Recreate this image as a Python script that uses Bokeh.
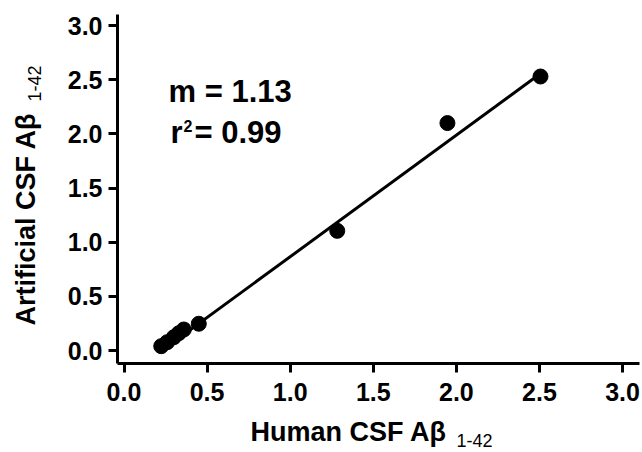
import math
from bokeh.plotting import figure
from bokeh.models import Label, FixedTicker, PrintfTickFormatter, ColumnDataSource
from bokeh.embed import file_html
from bokeh.resources import INLINE

# ---- data ----
human_csf = [0.224, 0.26, 0.30, 0.33, 0.36, 0.45, 1.283, 1.946, 2.506]
artificial_csf = [0.04, 0.077, 0.123, 0.16, 0.194, 0.247, 1.105, 2.10, 2.53]
fit_x = [0.22, 2.50]
fit_y = [-0.01, 2.55]
tick_values = [0.0, 0.5, 1.0, 1.5, 2.0, 2.5, 3.0]
slope_text = "m = 1.13"
r2_prefix = "r"
r2_sup = "2"
r2_rest = " = 0.99"
x_title = "Human CSF A\u03b2"
y_title = "Artificial CSF A\u03b2"
sub_text = "1-42"

FONT = "Liberation Sans"
W, H = 640, 450

# pixel layout of the picture (0.0 / 3.0 tick positions)
X0_PX, KX = 123.5, 166.2      # x=0 at px 123.5, 166.2 px per unit
Y0_PX, KY = 350.0, 108.3      # y=0 at px 350, 108.3 px per unit

def sx(px):
    return (px - X0_PX) / KX

def sy(py):
    return (Y0_PX - py) / KY

p = figure(width=W, height=H, output_backend="svg", toolbar_location=None,
           x_range=(sx(0), sx(W)), y_range=(sy(H), sy(0)),
           min_border_left=0, min_border_right=0, min_border_top=0, min_border_bottom=0)
p.outline_line_color = None
p.xgrid.visible = False
p.ygrid.visible = False
p.background_fill_color = "white"
p.border_fill_color = "white"

AX_LEFT_PX, AX_RIGHT_PX, AX_TOP_PX, AX_BOTTOM_PX = 117, 639, 14, 363

for ax in (p.xaxis[0], p.yaxis[0]):
    ax.ticker = FixedTicker(ticks=tick_values)
    ax.formatter = PrintfTickFormatter(format="%.1f")
    ax.axis_line_width = 3
    ax.axis_line_color = "black"
    ax.major_tick_line_width = 3
    ax.major_tick_line_color = "black"
    ax.major_tick_out = 9
    ax.major_tick_in = 0
    ax.minor_tick_out = 0
    ax.minor_tick_in = 0
    ax.major_label_text_font = FONT
    ax.major_label_text_font_style = "bold"
    ax.major_label_text_font_size = "25px"
    ax.major_label_text_color = "black"

p.xaxis[0].fixed_location = sy(AX_BOTTOM_PX)
p.xaxis[0].bounds = (sx(AX_LEFT_PX), sx(AX_RIGHT_PX))
p.xaxis[0].major_label_standoff = 10
p.yaxis[0].fixed_location = sx(AX_LEFT_PX)
p.yaxis[0].bounds = (sy(AX_BOTTOM_PX), sy(AX_TOP_PX))
p.yaxis[0].major_label_standoff = 6

src = ColumnDataSource(dict(x=human_csf, y=artificial_csf))
p.line(fit_x, fit_y, line_width=3, line_color="black")
p.scatter("x", "y", source=src, size=15, fill_color="black", line_color="black")

SHIFT = 0.36  # empirical: rendered text sits this many em below the anchor

def lab(text, px, py, size, style="bold"):
    """horizontal text; (px, py) = left end of the baseline in picture pixels"""
    py_a = py - SHIFT * size
    p.add_layout(Label(x=sx(px), y=sy(py_a), text=text,
                       text_font=FONT, text_font_style=style, text_font_size=f"{size}px",
                       text_color="black", text_align="left", text_baseline="alphabetic"))

def vlab(text, px, py, size, style="bold"):
    """text rotated 90 deg; px = baseline x, py = bottom start of text"""
    px_a = px - SHIFT * size
    p.add_layout(Label(x=sx(px_a), y=sy(py), text=text, angle=math.pi / 2,
                       text_font=FONT, text_font_style=style, text_font_size=f"{size}px",
                       text_color="black", text_align="left", text_baseline="alphabetic"))

lab(slope_text, 168, 102, 31)
lab(r2_prefix, 170, 143, 31)
lab(r2_sup, 183, 131, 16)
lab(r2_rest, 194, 143, 31)

lab(x_title, 250, 441, 27)
lab(sub_text, 456, 446, 18, style="normal")

vlab(y_title, 35, 325, 27)
vlab(sub_text, 40, 101, 18, style="normal")

open("out.html", "w").write(file_html(p, INLINE))
